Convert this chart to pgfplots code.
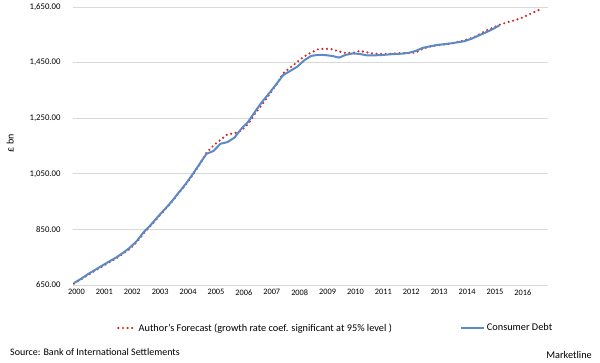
\documentclass[border=0pt]{standalone}
\usepackage{fontspec}
\setmainfont{Carlito}
\usepackage{pgfplots}
\pgfplotsset{compat=1.18}
\definecolor{debtblue}{HTML}{5B8AC6}
\definecolor{fcred}{HTML}{D0262A}
\definecolor{gridgray}{HTML}{D9D9D9}
\pgfplotsset{longlegend/.style={legend image code/.code={\draw[##1] (0pt,0pt) -- (23pt,0pt);}}}
\begin{document}
\begin{tikzpicture}[x=1pt,y=1pt]
\path[use as bounding box] (0,0) rectangle (600,363);
\begin{axis}[
  at={(73pt,78pt)}, anchor=south west,
  scale only axis, width=475pt, height=278pt,
  xmin=1999.965, xmax=2016.99,
  ymin=650, ymax=1650,
  xtick={2000,2001,...,2016},
  ytick={650,850,1050,1250,1450,1650},
  axis line style={draw=none},
  major tick length=0pt,
  ymajorgrids, grid style={color=gridgray, line width=0.7pt},
  /pgf/number format/assume math mode=true,
  xticklabel style={font=\fontsize{8.3}{9}\selectfont, xshift=2.5pt, yshift=-1pt, /pgf/number format/1000 sep={}},
  yticklabel style={font=\fontsize{8.7}{10}\selectfont, xshift=-9pt, /pgf/number format/fixed, /pgf/number format/fixed zerofill, /pgf/number format/precision=2, /pgf/number format/1000 sep={,}},
  ylabel={£ bn},
  ylabel style={font=\fontsize{8.7}{10}\selectfont},
  every axis y label/.style={at={(axis description cs:-0.132,0.51)}, rotate=90, anchor=center},
  legend columns=2,
  legend style={at={(axis description cs:0.0926,-0.1547)}, anchor=west, draw=none, fill=none, inner sep=0pt,
    font=\fontsize{10.3}{12}\selectfont, /tikz/every even column/.append style={column sep=66pt}},
  legend cell align=left,
]
\addplot[color=fcred, line width=2.4pt, line cap=round, dash pattern=on 0pt off 4.6pt] coordinates {
(2000.00,655) (2000.25,670) (2000.50,686) (2000.75,701) (2001.00,716) (2001.25,731) (2001.50,745) (2001.75,762)
(2002.00,780) (2002.25,804) (2002.50,836) (2002.75,863) (2003.00,892) (2003.25,920) (2003.50,948) (2003.75,980)
(2004.00,1010) (2004.25,1045) (2004.50,1083) (2004.75,1126) (2005.00,1152) (2005.25,1172) (2005.50,1192) (2005.75,1196)
(2006.00,1206) (2006.25,1230) (2006.50,1268) (2006.75,1300) (2007.00,1335) (2007.25,1370) (2007.50,1412) (2007.75,1432)
(2008.00,1452) (2008.25,1472) (2008.50,1486) (2008.75,1498) (2009.00,1500) (2009.25,1498) (2009.50,1490) (2009.75,1484)
(2010.00,1485) (2010.25,1492) (2010.50,1487) (2010.75,1482) (2011.00,1481) (2011.25,1481) (2011.50,1483) (2011.75,1484)
(2012.00,1484) (2012.25,1486) (2012.50,1500) (2012.75,1508) (2013.00,1512) (2013.25,1515) (2013.50,1518) (2013.75,1524)
(2014.00,1530) (2014.25,1538) (2014.50,1550) (2014.75,1564) (2015.00,1575) (2015.25,1586) (2015.50,1594) (2015.75,1601)
(2016.00,1609) (2016.25,1620) (2016.50,1632) (2016.75,1643)
};
\addlegendentry{Author's Forecast (growth rate coef. significant at 95\% level )}
\addplot[color=debtblue, line width=2pt, line join=round, longlegend] coordinates {
(2000.00,657) (2000.25,672) (2000.50,689) (2000.75,704) (2001.00,719) (2001.25,734) (2001.50,748) (2001.75,765)
(2002.00,784) (2002.25,808) (2002.50,840) (2002.75,866) (2003.00,895) (2003.25,922) (2003.50,950) (2003.75,982)
(2004.00,1013) (2004.25,1048) (2004.50,1085) (2004.75,1122) (2005.00,1132) (2005.25,1158) (2005.50,1164) (2005.75,1180)
(2006.00,1212) (2006.25,1238) (2006.50,1275) (2006.75,1310) (2007.00,1340) (2007.25,1372) (2007.50,1405) (2007.75,1420)
(2008.00,1435) (2008.25,1458) (2008.50,1474) (2008.75,1478) (2009.00,1477) (2009.25,1474) (2009.50,1468) (2009.75,1478)
(2010.00,1483) (2010.25,1481) (2010.50,1476) (2010.75,1476) (2011.00,1477) (2011.25,1479) (2011.50,1481) (2011.75,1482)
(2012.00,1485) (2012.25,1492) (2012.50,1503) (2012.75,1508) (2013.00,1513) (2013.25,1516) (2013.50,1519) (2013.75,1523)
(2014.00,1527) (2014.25,1536) (2014.50,1547) (2014.75,1558) (2015.00,1570) (2015.25,1584)
};
\addlegendentry{Consumer Debt}
\end{axis}
\node[anchor=west, inner sep=0pt, font=\fontsize{10}{12}\selectfont] at (10,11) {Source: Bank of International Settlements};
\node[anchor=east, inner sep=0pt, font=\fontsize{10.3}{12}\selectfont] at (592,8) {Marketline};
\end{tikzpicture}
\end{document}
